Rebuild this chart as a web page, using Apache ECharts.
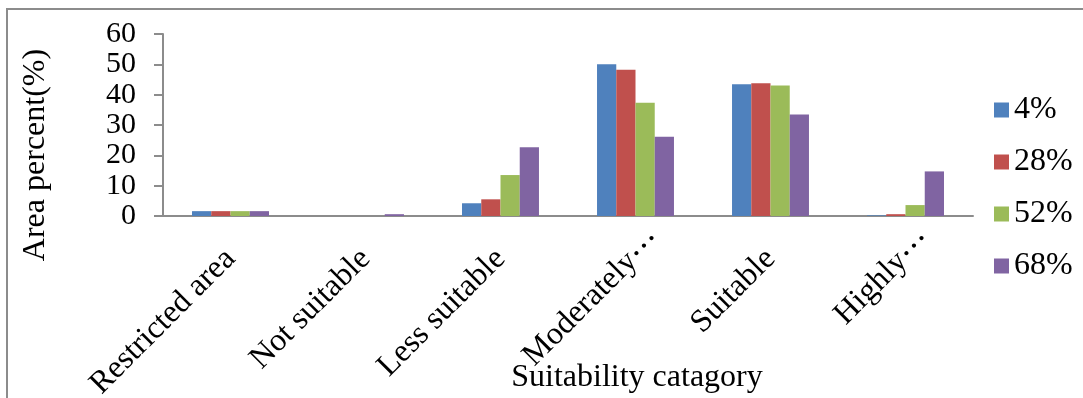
<!DOCTYPE html>
<html><head><meta charset="utf-8">
<script src="https://cdn.jsdelivr.net/npm/echarts@6/dist/echarts.min.js"></script>
<style>html,body{margin:0;padding:0;background:#fff}#c{width:1083px;height:398px}</style>
</head><body><div id="c"></div>
<script>
var categories = ['Restricted area','Not suitable','Less suitable','Moderately\u2026','Suitable','Highly\u2026'];
var seriesNames = ['4%','28%','52%','68%'];
var s4  = [1.6, 0, 4.2, 50.0, 43.4, 0.2];
var s28 = [1.6, 0, 5.5, 48.2, 43.8, 0.6];
var s52 = [1.6, 0, 13.5, 37.3, 43.0, 3.6];
var s68 = [1.6, 0.6, 22.7, 26.1, 33.5, 14.7];
var yTicks = [0,10,20,30,40,50,60];
var colors = ['#4F81BD','#C0504D','#9BBB59','#8064A2'];
var font = '"Liberation Serif","Times New Roman",serif';
var fs = 32;
var chart = echarts.init(document.getElementById('c'), null, {renderer:'canvas'});
var values = [s4,s28,s52,s68];
chart.setOption({
  animation:false,
  color:colors,
  grid:{left:163,right:110,top:34,bottom:182,containLabel:false,outerBoundsMode:'none'},
  legend:{orient:'vertical',left:989,top:89,itemWidth:15,itemHeight:15,itemGap:20,
    icon:'rect',data:seriesNames,
    textStyle:{fontFamily:font,fontSize:fs,color:'#000',lineHeight:32}},
  xAxis:{type:'category',data:categories,
    axisLine:{lineStyle:{color:'#8c8c8c',width:2}},
    axisTick:{show:false},
    axisLabel:{rotate:45,margin:38,interval:0,fontFamily:font,fontSize:fs,color:'#000',
      formatter:function(v){return v.replace('\u2026','{e|\u2026}');},
      rich:{e:{fontFamily:'"Noto Sans CJK SC"',fontSize:fs,color:'#000',padding:[0,-28,0,0]}}}},
  yAxis:{type:'value',min:yTicks[0],max:yTicks[yTicks.length-1],interval:10,
    splitLine:{show:false},
    axisLine:{show:true,lineStyle:{color:'#8c8c8c',width:2}},
    axisTick:{show:true,length:9,lineStyle:{color:'#8c8c8c',width:2}},
    axisLabel:{margin:27,fontFamily:font,fontSize:30,color:'#000'}},
  graphic:[
    {type:'rect',shape:{x:7,y:9,width:1090,height:420},style:{fill:'none',stroke:'#8c8c8c',lineWidth:2},silent:true},
    {type:'text',x:36,y:155,rotation:Math.PI/2,style:{text:'Area percent(%)',fontFamily:font,fontSize:fs,fill:'#000',textAlign:'center',textVerticalAlign:'middle'}},
    {type:'text',x:637,y:378,style:{text:'Suitability catagory',fontFamily:font,fontSize:fs,fill:'#000',textAlign:'center',textVerticalAlign:'middle'}}
  ],
  series:seriesNames.map(function(n,i){return {name:n,type:'bar',data:values[i],
    barGap:'0%',barCategoryGap:'43%'};})
});
</script></body></html>
